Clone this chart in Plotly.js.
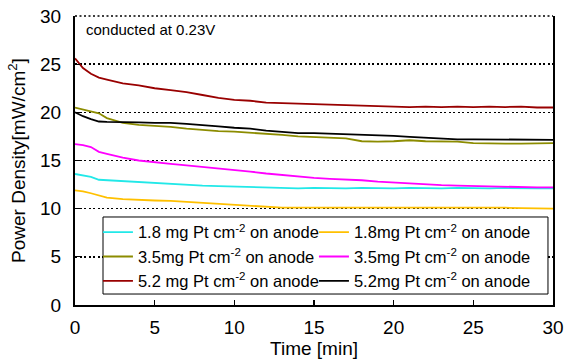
<!DOCTYPE html>
<html>
<head>
<meta charset="utf-8">
<script src="https://cdn.plot.ly/plotly-3.0.1.min.js"></script>
<style>html,body{margin:0;padding:0;background:#fff;}#chart{width:567px;height:362px;}</style>
</head>
<body>
<div id="chart"></div>
<script>
var time = [0,0.5,1,1.5,2,3,4,5,6,7,8,9,10,11,12,13,14,15,16,17,18,19,20,21,22,23,24,25,26,27,28,29,30];

var cyan18 = [13.6,13.45,13.3,13.0,12.95,12.85,12.8,12.7,12.6,12.5,12.4,12.35,12.3,12.25,12.25,12.2,12.1,12.15,12.1,12.1,12.15,12.1,12.1,12.15,12.1,12.1,12.15,12.1,12.1,12.15,12.1,12.1,12.1];
var orange18 = [11.9,11.8,11.6,11.35,11.15,11.0,10.9,10.85,10.8,10.7,10.55,10.45,10.4,10.3,10.15,10.1,10.1,10.1,10.1,10.1,10.15,10.1,10.1,10.1,10.15,10.1,10.1,10.1,10.1,10.1,10.05,10.05,10.0];
var olive35 = [20.5,20.3,20.1,19.9,19.4,18.9,18.7,18.6,18.5,18.3,18.15,18.05,18.0,17.9,17.8,17.65,17.5,17.45,17.4,17.3,17.0,16.95,17.0,17.1,17.0,16.95,16.95,16.8,16.75,16.75,16.75,16.8,16.8];
var magenta35 = [16.7,16.6,16.4,15.9,15.7,15.3,15.0,14.8,14.65,14.5,14.35,14.2,14.0,13.85,13.65,13.5,13.3,13.2,13.1,13.05,12.95,12.8,12.7,12.6,12.5,12.45,12.4,12.35,12.3,12.25,12.2,12.2,12.2];
var red52 = [25.6,24.6,24.0,23.6,23.4,23.0,22.8,22.5,22.3,22.1,21.8,21.5,21.3,21.2,21.0,20.95,20.85,20.85,20.8,20.75,20.7,20.6,20.6,20.55,20.6,20.55,20.6,20.55,20.6,20.55,20.6,20.5,20.5];
var black52 = [20.0,19.6,19.3,19.05,19.0,19.0,18.95,18.9,18.9,18.8,18.7,18.55,18.4,18.3,18.1,17.95,17.85,17.85,17.8,17.75,17.7,17.6,17.55,17.45,17.35,17.25,17.2,17.2,17.2,17.15,17.15,17.15,17.15];

var seriesNames = [
  "1.8 mg Pt cm<sup>-2</sup> on anode",
  "1.8mg Pt cm<sup>-2</sup> on anode",
  "3.5mg Pt cm<sup>-2</sup> on anode",
  "3.5mg Pt cm<sup>-2</sup> on anode",
  "5.2 mg Pt cm<sup>-2</sup> on anode",
  "5.2mg Pt cm<sup>-2</sup> on anode"
];
var seriesData = [cyan18, orange18, olive35, magenta35, red52, black52];
var seriesColors = ["#22e8e8", "#ffc000", "#8c8c00", "#ff00ff", "#990000", "#000000"];

var traces = seriesData.map(function(d, i) {
  return {
    x: time, y: d, name: seriesNames[i], type: "scatter", mode: "lines",
    line: {color: seriesColors[i], width: 1.8}
  };
});

var axisFont = {family: "Liberation Sans, Arial, sans-serif", size: 19, color: "#000"};

var layout = {
  width: 567, height: 362,
  margin: {l: 75, r: 14, t: 16, b: 57},
  paper_bgcolor: "#fff", plot_bgcolor: "#fff",
  font: {family: "Liberation Sans, Arial, sans-serif", color: "#000"},
  showlegend: true,
  xaxis: {
    range: [0, 30], tickvals: [0,5,10,15,20,25,30],
    ticks: "inside", ticklen: 5, tickcolor: "#000", tickwidth: 1.2,
    showline: true, linecolor: "#000", linewidth: 2, mirror: false,
    showgrid: false, zeroline: false,
    tickfont: axisFont, ticklabelstandoff: 4,
    title: {text: "Time [min]", font: {size: 19}, standoff: 5}
  },
  yaxis: {
    range: [0, 30], tickvals: [0,5,10,15,20,25,30],
    ticks: "inside", ticklen: 5, tickcolor: "#000", tickwidth: 1.2,
    showline: true, linecolor: "#000", linewidth: 2, mirror: true,
    showgrid: true, gridcolor: "#000", gridwidth: 1.6, griddash: "2px,2.5px",
    zeroline: false,
    tickfont: axisFont, ticklabelstandoff: 8,
    title: {text: "Power Density[mW/cm<sup>2</sup>]", font: {size: 19}, standoff: 9}
  },
  legend: {
    orientation: "h", x: 0.048, xanchor: "left", y: 0.312, yanchor: "top",
    bgcolor: "rgba(0,0,0,0)", borderwidth: 0,
    font: {size: 16.5}, entrywidth: 171, entrywidthmode: "pixels",
    itemwidth: 30, tracegroupgap: 0
  },
  shapes: [{
    type: "rect", xref: "paper", yref: "paper", layer: "above",
    x0: 0.0586, x1: 0.9895, y0: 0.038, y1: 0.3045,
    fillcolor: "#fff", line: {color: "#000", width: 1}
  }, {
    type: "line", xref: "paper", yref: "paper", layer: "above",
    x0: 0, x1: 1, y0: 1, y1: 1,
    line: {color: "#000", width: 1.6, dash: "2px,2.5px"}
  }],
  annotations: [{
    text: "conducted at 0.23V", xref: "paper", yref: "paper",
    x: 0.018, y: 0.952, xanchor: "left", yanchor: "middle",
    showarrow: false, font: {size: 15}
  }]
};

Plotly.newPlot("chart", traces, layout, {displayModeBar: false, staticPlot: true});
</script>
</body>
</html>
